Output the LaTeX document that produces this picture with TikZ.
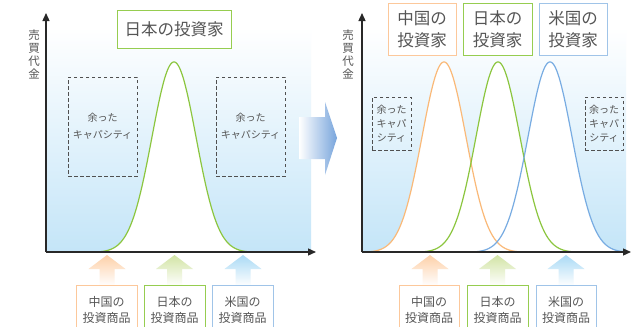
\documentclass[tikz,border=0pt]{standalone}
\usepackage{fontspec}
\setmainfont{Noto Sans CJK JP}
\usetikzlibrary{arrows.meta}
\definecolor{cOr}{RGB}{250,185,120}
\definecolor{cOrB}{RGB}{252,200,155}
\definecolor{cGr}{RGB}{140,198,63}
\definecolor{cGrB}{RGB}{150,205,80}
\definecolor{cBl}{RGB}{120,172,226}
\definecolor{cBlB}{RGB}{160,196,232}
\definecolor{cSky}{RGB}{196,229,248}
\definecolor{cTxt}{RGB}{85,85,85}
\definecolor{cAx}{RGB}{40,40,40}
\definecolor{cDash}{RGB}{80,80,80}
\definecolor{cArOr}{RGB}{253,208,168}
\definecolor{cArGr}{RGB}{210,228,165}
\definecolor{cArBl}{RGB}{170,218,245}
\definecolor{cBig}{RGB}{120,165,220}
\pgfmathdeclarefunction{bell}{1}{\pgfmathparse{252-190.4*(exp(-(#1)*(#1)/968)-0.002)}}
\newcommand\upArrow[2]{\shade[top color=#2,bottom color=white,shift={(#1,0)}] (0,255) -- (18.5,269) -- (7.5,269) -- (7.5,286) -- (-7.5,286) -- (-7.5,269) -- (-18.5,269) -- cycle;}
\tikzset{
  axisline/.style={draw=cAx,line width=1.3pt,-{Triangle[length=8pt,width=7pt]}},
  curveline/.style={line width=1.2pt},
  titlebox/.style={draw,line width=1pt,fill=white,text=cTxt,inner sep=0pt,align=center,font=\fontsize{16.5}{22}\selectfont},
  capbox/.style={draw=cDash,line width=1pt,dashed,dash pattern=on 3.5pt off 2.5pt,inner sep=0pt,align=center,text=cTxt},
  prodbox/.style={draw,line width=1pt,fill=white,text=cTxt,inner sep=0pt,align=center,minimum height=50pt,font=\fontsize{12}{16}\selectfont},
  vlabel/.style={text=cTxt,align=center,inner sep=0pt,font=\fontsize{11.5}{13}\selectfont},
  panel/.style={top color=white,bottom color=cSky}
}
\begin{document}
\begin{tikzpicture}[x=1pt,y=-1pt]
\clip (0,0) rectangle (638,327);
\fill[white] (0,0) rectangle (638,327);
% panels
\shade[panel] (46,28) rectangle (311,252);
\shade[panel] (362,28) rectangle (626,252);
% big arrow
\shade[left color=white,right color=cBig] (299,117) -- (325,117) -- (325,102) -- (337,138) -- (325,175) -- (325,159) -- (299,159) -- cycle;
% left curve
\fill[white] plot[domain=-80:80,samples=161] ({174+\x},{bell(\x)}) -- cycle;
\draw[cGr,curveline] plot[domain=-78:79,samples=161] ({174+\x},{bell(\x)});
% right curves
\fill[white] plot[domain=-82:79,samples=161] ({444+\x},{bell(\x)}) -- cycle;
\fill[white] plot[domain=-78:79,samples=161] ({498+\x},{bell(\x)}) -- cycle;
\fill[white] plot[domain=-78:76,samples=161] ({550+\x},{bell(\x)}) -- cycle;
\draw[cOr,curveline] plot[domain=-82:79,samples=161] ({444+\x},{bell(\x)});
\draw[cGr,curveline] plot[domain=-78:79,samples=161] ({498+\x},{bell(\x)});
\draw[cBl,curveline] plot[domain=-78:76,samples=161] ({550+\x},{bell(\x)});
% axes
\coordinate (oL) at (46,252);
\coordinate (xL) at (316,252);
\coordinate (yL) at (46,13);
\coordinate (oR) at (362,252);
\coordinate (xR) at (631,252);
\coordinate (yR) at (362,13);
\draw[axisline] (oL) -- (xL);
\draw[axisline] (oL) -- (yL);
\draw[axisline] (oR) -- (xR);
\draw[axisline] (oR) -- (yR);
% axis labels
\node[vlabel] (vL) at (34,54) {売\\買\\代\\金};
\node[vlabel] (vR) at (348,54) {売\\買\\代\\金};
% titles
\node[titlebox,draw=cGrB,minimum width=114pt,minimum height=38pt] (tJ) at (174,29) {日本の投資家};
\node[titlebox,draw=cOrB,minimum width=68pt,minimum height=52pt] (tC2) at (422,29) {中国の\\投資家};
\node[titlebox,draw=cGrB,minimum width=69pt,minimum height=52pt] (tJ2) at (497.5,29) {日本の\\投資家};
\node[titlebox,draw=cBlB,minimum width=68pt,minimum height=52pt] (tU2) at (573,29) {米国の\\投資家};
% capacity boxes
\node[capbox,minimum width=69pt,minimum height=99pt,font=\fontsize{10}{17}\selectfont] (c1) at (102.5,126.5) {余った\\キャパシティ};
\node[capbox,minimum width=69pt,minimum height=99pt,font=\fontsize{10}{17}\selectfont] (c2) at (250.5,126.5) {余った\\キャパシティ};
\node[capbox,minimum width=39pt,minimum height=53pt,font=\fontsize{10}{14}\selectfont] (c3) at (391.5,123.5) {余った\\キャパ\\シティ};
\node[capbox,minimum width=38pt,minimum height=53pt,font=\fontsize{10}{14}\selectfont] (c4) at (604,123.5) {余った\\キャパ\\シティ};
% up arrows
\upArrow{107}{cArOr}
\upArrow{174.5}{cArGr}
\upArrow{243}{cArBl}
\upArrow{430}{cArOr}
\upArrow{497.5}{cArGr}
\upArrow{566}{cArBl}
% product boxes
\node[prodbox,draw=cOrB,minimum width=61pt] (pC) at (106.5,310) {中国の\\投資商品};
\node[prodbox,draw=cGrB,minimum width=61pt] (pJ) at (174.5,310) {日本の\\投資商品};
\node[prodbox,draw=cBlB,minimum width=61pt] (pU) at (242.5,310) {米国の\\投資商品};
\node[prodbox,draw=cOrB,minimum width=60pt] (pC2) at (429,310) {中国の\\投資商品};
\node[prodbox,draw=cGrB,minimum width=61pt] (pJ2) at (497.5,310) {日本の\\投資商品};
\node[prodbox,draw=cBlB,minimum width=60pt] (pU2) at (566,310) {米国の\\投資商品};
\end{tikzpicture}
\end{document}
